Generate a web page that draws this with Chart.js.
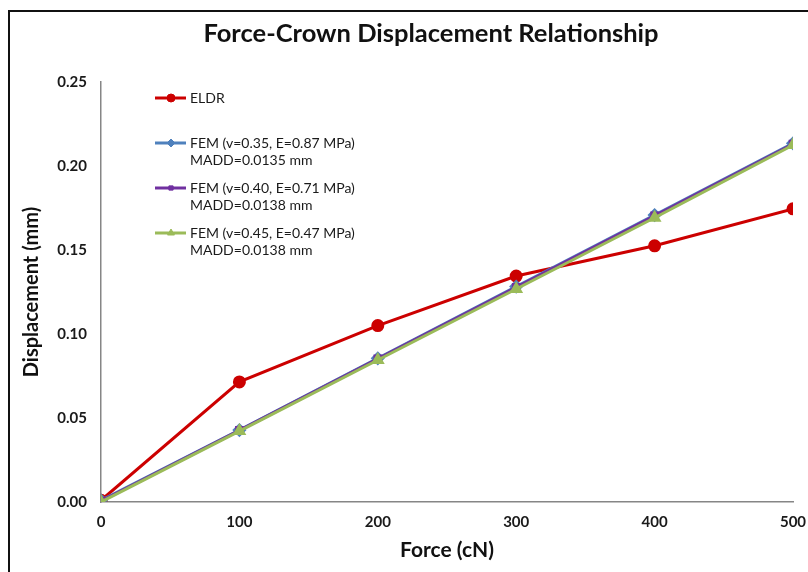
<!DOCTYPE html>
<html>
<head>
<meta charset="utf-8">
<script src="https://cdn.jsdelivr.net/npm/chart.js@4.4.1/dist/chart.umd.min.js"></script>
<style>
  html, body { margin: 0; padding: 0; background: #fff; }
  #wrap { position: relative; width: 808px; height: 572px; }
  #frame { position: absolute; left: 8px; top: 10px; right: 0; bottom: 0;
           border-top: 2px solid #111; border-left: 2px solid #111; pointer-events: none; }
</style>
</head>
<body>
<div id="wrap">
  <canvas id="forceChart" width="808" height="572"></canvas>
  <div id="frame"></div>
</div>
<script>
const forces = [0, 100, 200, 300, 400, 500];
const eldr = [0.001, 0.0715, 0.105, 0.1345, 0.1525, 0.1745];
const fem35 = [0.001, 0.0428, 0.0855, 0.1282, 0.1708, 0.2135];
const fem40 = [0.0005, 0.0426, 0.0852, 0.1278, 0.1704, 0.2130];
const fem45 = [0, 0.0422, 0.0845, 0.1268, 0.1692, 0.2125];
const yTicks = [0, 0.05, 0.10, 0.15, 0.20, 0.25];

const chartTitle = "Force-Crown Displacement Relationship";
const legendText = [
    ["ELDR"],
    ["FEM (v=0.35, E=0.87 MPa)", "MADD=0.0135 mm"],
    ["FEM (v=0.40, E=0.71 MPa)", "MADD=0.0138 mm"],
    ["FEM (v=0.45, E=0.47 MPa)", "MADD=0.0138 mm"]
];

function pts(vals) {
    return vals.map((v, i) => ({ x: forces[i], y: v }));
}

// title + legend drawn by hand, like the Excel original
const decorations = {
    id: "decorations",
    afterDraw(chart) {
        const ctx = chart.ctx;
        ctx.save();
        ctx.fillStyle = "#111";
        ctx.font = "bold 25.5px Lato";
        ctx.textAlign = "center";
        ctx.textBaseline = "middle";
        ctx.fillText(chartTitle, 431, 34);

        const rows = [98, 143, 188, 233];
        ctx.textAlign = "left";
        chart.data.datasets.forEach((ds, i) => {
            const y = rows[i];
            ctx.strokeStyle = ds.borderColor;
            ctx.lineWidth = 3;
            ctx.beginPath();
            ctx.moveTo(155, y);
            ctx.lineTo(186, y);
            ctx.stroke();
            ctx.fillStyle = ds.pointBackgroundColor;
            ctx.strokeStyle = ds.pointBorderColor;
            ctx.lineWidth = 1;
            Chart.helpers.drawPoint(ctx, {
                pointStyle: ds.pointStyle,
                radius: ds.pointRadius - 1,
                rotation: 0,
                borderWidth: 1
            }, 171, y);
            ctx.fillStyle = "#1a1a1a";
            ctx.font = "14px Lato";
            legendText[i].forEach((line, k) => {
                ctx.fillText(line, 190, y + k * 17);
            });
        });
        ctx.restore();
    }
};

const ctx = document.getElementById("forceChart").getContext("2d");
new Chart(ctx, {
    type: "line",
    data: {
        datasets: [{
            label: "ELDR",
            data: pts(eldr),
            borderColor: "#CC0000",
            pointBackgroundColor: "#CC0000",
            pointBorderColor: "#CC0000",
            pointStyle: "circle",
            pointRadius: 5,
            borderWidth: 3,
            order: 4
        }, {
            label: "FEM (v=0.35, E=0.87 MPa)",
            data: pts(fem35),
            borderColor: "#4F81BD",
            pointBackgroundColor: "#4F81BD",
            pointBorderColor: "#4F81BD",
            pointStyle: "rectRot",
            pointRadius: 5,
            borderWidth: 3,
            order: 3
        }, {
            label: "FEM (v=0.40, E=0.71 MPa)",
            data: pts(fem40),
            borderColor: "#7030A0",
            pointBackgroundColor: "#7030A0",
            pointBorderColor: "#7030A0",
            pointStyle: "rect",
            pointRadius: 4,
            borderWidth: 3,
            order: 2
        }, {
            label: "FEM (v=0.45, E=0.47 MPa)",
            data: pts(fem45),
            borderColor: "#9BBB59",
            pointBackgroundColor: "#9BBB59",
            pointBorderColor: "#9BBB59",
            pointStyle: "triangle",
            pointRadius: 5,
            borderWidth: 3,
            order: 1
        }]
    },
    options: {
        responsive: false,
        animation: false,
        layout: { padding: { left: 0, right: 15, top: 82, bottom: 0 } },
        plugins: {
            legend: { display: false },
            tooltip: { enabled: false },
            title: { display: false }
        },
        scales: {
            x: {
                type: "linear",
                min: 0,
                max: 500,
                afterBuildTicks: s => { s.ticks = forces.map(v => ({ value: v })); },
                afterFit: s => { s.height = 70; s.paddingRight = 0; },
                grid: { display: false, drawTicks: true, tickLength: 6, color: "#868686" },
                border: { color: "#868686", width: 1.5 },
                ticks: { color: "#1a1a1a", font: { family: "Lato", size: 15, weight: "bold" }, padding: 5 },
                title: {
                    display: true,
                    text: "Force (cN)",
                    color: "#111",
                    font: { family: "Lato", size: 21, weight: "bold" },
                    padding: { top: 2, bottom: 9 }
                }
            },
            y: {
                min: 0,
                max: 0.25,
                afterBuildTicks: s => { s.ticks = yTicks.map(v => ({ value: v })); },
                afterFit: s => { s.width = 101; },
                grid: { display: false, drawTicks: true, tickLength: 6, color: "#868686" },
                border: { color: "#868686", width: 1.5 },
                ticks: {
                    color: "#1a1a1a",
                    font: { family: "Lato", size: 15, weight: "bold" },
                    padding: 8,
                    callback: v => v.toFixed(2)
                },
                title: {
                    display: true,
                    text: "Displacement (mm)",
                    color: "#111",
                    font: { family: "Lato", size: 20, weight: "bold" },
                    padding: { top: 20, bottom: 4 }
                }
            }
        }
    },
    plugins: [decorations]
});
</script>
</body>
</html>
